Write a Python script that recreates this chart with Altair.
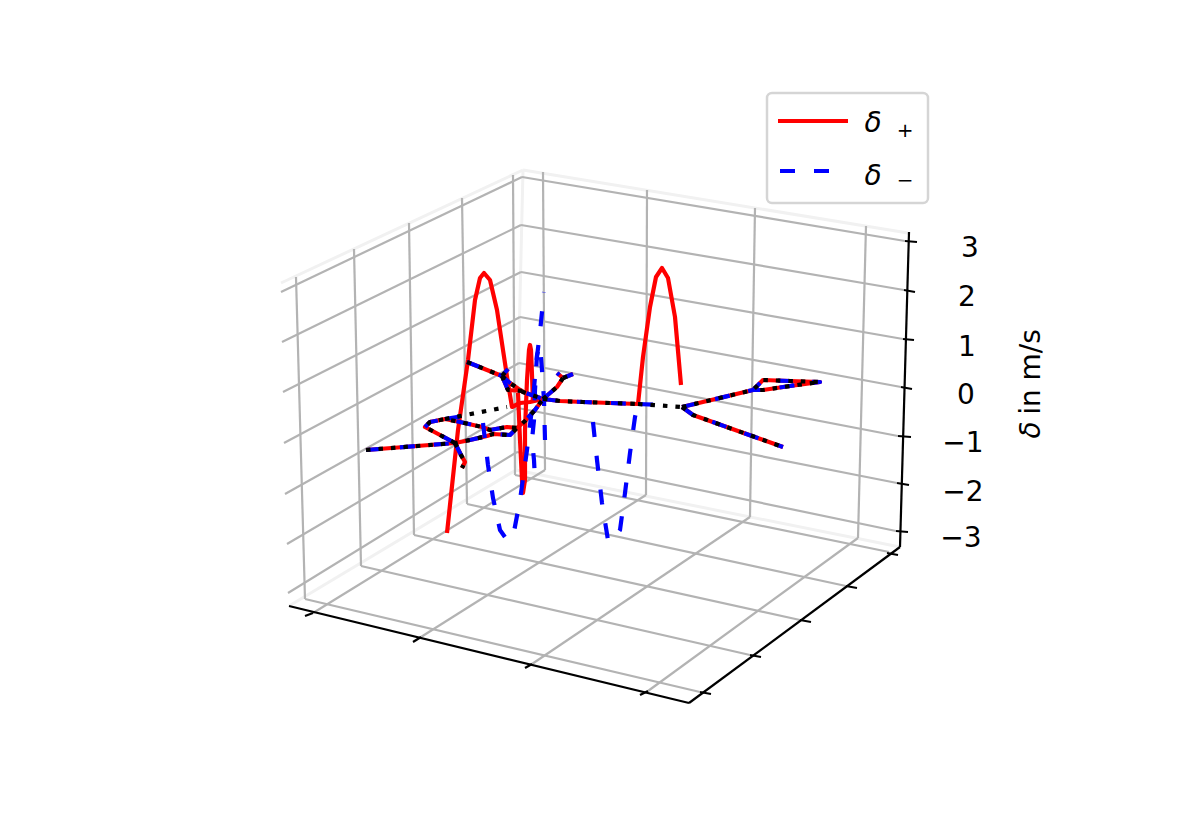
import altair as alt
import pandas as pd

# Projected positions of the 3D figure
z_tick_labels = ["3", "2", "1", "0", "\u22121", "\u22122", "\u22123"]
z_label_x = [970, 967, 967, 966, 963, 963, 961]
z_label_y = [249, 298, 348, 396, 444, 493, 539]

left_wall_z = [[(281,292),(522,177)],[(282,342),(521,225)],[(283,392),(521,272)],[(284,443),(520,317)],
               [(285,494),(519,363)],[(287,544),(518,408)],[(288,593),(517,452)]]
right_wall_z = [[(522,177),(905,241)],[(521,225),(904,290)],[(521,272),(903,339)],[(520,317),(901,387)],
                [(519,363),(898,436)],[(518,408),(897,483)],[(517,452),(896,531)]]
left_wall_v = [[(296,277),(305,599)],[(354,249),(361,566)],[(409,223),(414,535)],[(462,198),(467,504)],[(513,175),(515,475)]]
right_wall_v = [[(543,172),(545,470)],[(647,190),(646,495)],[(755,208),(750,517)],[(866,226),(858,538)]]
floor_a = [[(305,599),(700,692)],[(361,566),(750,655)],[(414,535),(800,620)],[(467,504),(846,586)],[(515,475),(889,552)]]
floor_b = [[(313,613),(545,470)],[(421,637),(646,495)],[(532,664),(750,517)],[(648,691),(858,538)]]
pane_edges = [[(281,283),(523,170)],[(523,170),(908,233)],[(523,170),(516,470)],[(289,606),(516,470)],[(516,470),(900,547)]]

axes_black = [[(289,606),(689,703)],[(689,703),(900,547)],[(900,547),(909,232)]]
ticks_black = [[(305,616),(313,613)],[(413,642),(421,637)],[(525,668),(532,664)],[(640,695),(648,691)],
               [(700,692),(711,694)],[(750,655),(761,657)],[(800,620),(811,622)],[(846,586),(857,588)],[(887,553),(898,555)],
               [(905,241),(917,242)],[(904,290),(915,292)],[(903,339),(914,340)],[(901,387),(912,389)],
               [(898,436),(911,437)],[(897,483),(909,485)],[(896,531),(908,532)]]

# Shared trajectory (delta+ , delta- and the mean overlap)
shared = [
    [(366,450),(455,443),(470,440),(487,436),(493,434),(510,435),(517,428),(525,421),(535,410),(543,399)],
    [(455,443),(425,427),(430,422),(445,419),(460,422),(482,427),(490,430),(507,427),(517,428)],
    [(455,443),(461,455),(465,462),(462,468)],
    [(467,362),(502,376),(510,383),(523,392),(543,399)],
    [(502,376),(508,369)],
    [(502,376),(505,383),(508,390),(523,391)],
    [(543,399),(557,387),(563,378),(557,373)],
    [(563,378),(573,374)],
    [(543,399),(560,401),(583,402),(638,404)],
    [(682,407),(753,390),(763,380),(790,381),(820,382),(790,386),(763,390),(753,390)],
    [(682,407),(693,415),(783,447)],
]
red_only = [
    [(447,533),(458,430),(468,360),(475,300),(480,278),(484,273),(490,280),(497,310),(503,350),(508,383),(512,407),(520,403),(530,402),(543,399)],
    [(518,393),(520,440),(522,480),(523,493),(525,480),(525,430),(527,380),(529,350),(530,345),(531,350),(532,375),(533,403)],
    [(638,404),(643,357),(650,307),(656,277),(662,268),(668,278),(675,317),(681,385)],
]
blue_only = [
    [(483,423),(488,465),(493,498),(500,530),(507,540),(513,537),(520,500),(527,450),(533,400),(536,365),(540,332),(544,292)],
    [(545,440),(544,400),(542,370),(540,345),(537,355),(535,390),(534,420),(532,440),(534,460),(535,480)],
    [(593,422),(597,460),(602,503),(608,540),(613,541),(620,530),(625,493),(630,453),(635,417),(638,404)],
    [(638,404),(660,405)],
    [(445,419),(470,415)],
]
black_only = [
    [(445,419),(507,407)],
    [(638,404),(682,407)],
]

legend_red = [[(778,121),(848,121)]]
legend_blue = [[(780,171),(829,171)]]
legend_box = [(767,93,928,203)]
delta_glyphs = [(873,124),(873,177)]
subscripts = [("+",905,131),("\u2212",905,181)]

X = alt.X("x:Q", scale=alt.Scale(domain=[8,1108], nice=False, zero=False), axis=None)
Y = alt.Y("y:Q", scale=alt.Scale(domain=[768,8], nice=False, zero=False), axis=None)


def lines(paths, color, width, dash=None, join="round"):
    rows = [{"id": k, "i": i, "x": p[0], "y": p[1]} for k, path in enumerate(paths) for i, p in enumerate(path)]
    kw = dict(color=color, strokeWidth=width, strokeJoin=join, strokeCap="butt", interpolate="linear", clip=False)
    if dash:
        kw["strokeDash"] = dash
    return alt.Chart(pd.DataFrame(rows)).mark_line(**kw).encode(x=X, y=Y, detail="id:N", order="i:Q")


def texts(rows, size, angle=0, style="normal"):
    df = pd.DataFrame(rows, columns=["t", "x", "y"])
    return alt.Chart(df).mark_text(font="DejaVu Sans", fontSize=size, color="black", align="center",
                                   baseline="middle", angle=angle, fontStyle=style).encode(x=X, y=Y, text="t:N")


box_df = pd.DataFrame(legend_box, columns=["x", "y", "x2", "y2"])
legend_rect = alt.Chart(box_df).mark_rect(fill="white", fillOpacity=0.8, stroke="#d5d5d5", strokeWidth=2.5,
                                          cornerRadius=5).encode(x=X, y=Y, x2="x2:Q", y2="y2:Q")

grid = "#b3b3b3"
dash_blue = [15, 19]
dash_dot = [4.5, 8]
chart = alt.layer(
    lines(pane_edges, "#f1f1f1", 3),
    lines(left_wall_z + right_wall_z + left_wall_v + right_wall_v + floor_a + floor_b, grid, 2.2),
    lines(axes_black + ticks_black, "black", 2.2),
    lines(red_only + shared, "#ff0000", 4.2),
    lines(blue_only + shared, "#0000ff", 4.2, dash_blue),
    lines(black_only + shared, "black", 4.2, dash_dot),
    legend_rect,
    lines(legend_red, "#ff0000", 4.2),
    lines(legend_blue, "#0000ff", 4.2, dash_blue),
    texts([("\u03b4", x, y) for x, y in delta_glyphs], 28, style="italic"),
    texts(subscripts, 20),
    texts(list(zip(z_tick_labels, z_label_x, z_label_y)), 28),
    texts([("\u03b4", 1032, 430)], 28, angle=270, style="italic"),
    texts([("in m/s", 1032, 372)], 28, angle=270),
).properties(width=1100, height=760, padding=0, autosize=alt.AutoSizeParams(type="none")).configure_view(stroke=None)

chart.save("out.html", embed_options={"renderer": "svg", "actions": False})
